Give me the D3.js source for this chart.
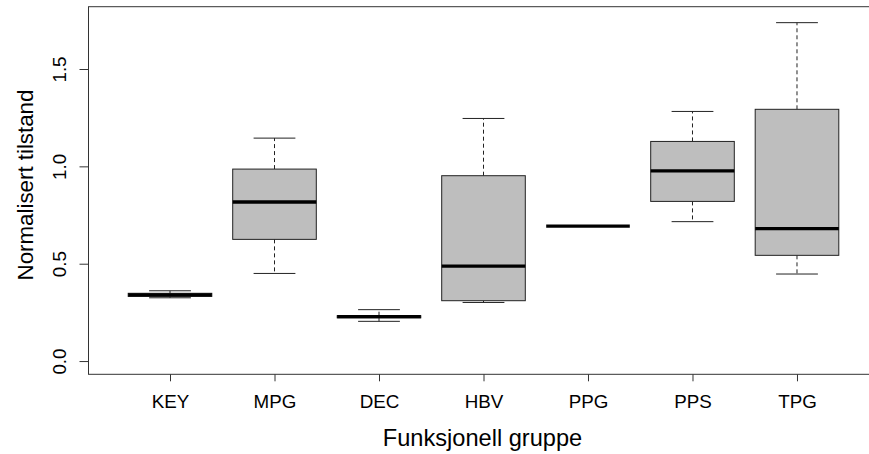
<!DOCTYPE html>
<html>
<head>
<meta charset="utf-8">
<script src="https://cdn.jsdelivr.net/npm/d3@7"></script>
<style>
  body { margin: 0; background: #fff; }
  svg { display: block; font-family: "Liberation Sans", Arial, sans-serif; }
</style>
</head>
<body>
<svg id="chart" width="869" height="454"></svg>
<script>
// groups and five-number summaries
const groups = ["KEY", "MPG", "DEC", "HBV", "PPG", "PPS", "TPG"];
const lowerWhisker = [0.325, 0.450, 0.204, 0.301, 0.693, 0.716, 0.447];
const q1 = [0.332, 0.625, 0.222, 0.310, 0.693, 0.820, 0.543];
const median = [0.340, 0.817, 0.228, 0.488, 0.693, 0.977, 0.680];
const q3 = [0.348, 0.986, 0.233, 0.952, 0.693, 1.128, 1.293];
const upperWhisker = [0.361, 1.145, 0.264, 1.246, 0.693, 1.282, 1.738];
const yTicks = [0, 0.5, 1.0, 1.5];

const svg = d3.select("#chart");

const plot = { left: 88.5, right: 878.5, top: 6.7, bottom: 374.3 };

const x = d3.scaleLinear().domain([0.22, 7.78]).range([plot.left, plot.right]);
const y = d3.scaleLinear().domain([-0.068, 1.82]).range([plot.bottom, plot.top]);

const boxes = groups.map((g, i) => ({
  name: g,
  pos: i + 1,
  lo: lowerWhisker[i],
  q1: q1[i],
  med: median[i],
  q3: q3[i],
  hi: upperWhisker[i]
}));

const boxHalf = 0.4, capHalf = 0.2;
const lineCol = "#222";

const g = svg.append("g");

// whiskers (dashed)
g.selectAll("line.wup")
  .data(boxes.filter(d => d.hi > d.q3))
  .join("line")
  .attr("x1", d => x(d.pos)).attr("x2", d => x(d.pos))
  .attr("y1", d => y(d.q3)).attr("y2", d => y(d.hi))
  .attr("stroke", lineCol).attr("stroke-width", 1)
  .attr("stroke-dasharray", "4,3");

g.selectAll("line.wlo")
  .data(boxes.filter(d => d.lo < d.q1))
  .join("line")
  .attr("x1", d => x(d.pos)).attr("x2", d => x(d.pos))
  .attr("y1", d => y(d.q1)).attr("y2", d => y(d.lo))
  .attr("stroke", lineCol).attr("stroke-width", 1)
  .attr("stroke-dasharray", "4,3");

// staples
["lo", "hi"].forEach(k => {
  g.append("g").selectAll("line")
    .data(boxes)
    .join("line")
    .attr("x1", d => x(d.pos - capHalf)).attr("x2", d => x(d.pos + capHalf))
    .attr("y1", d => y(d[k])).attr("y2", d => y(d[k]))
    .attr("stroke", lineCol).attr("stroke-width", 1);
});

// boxes
g.append("g").selectAll("rect")
  .data(boxes)
  .join("rect")
  .attr("x", d => x(d.pos - boxHalf))
  .attr("width", d => x(d.pos + boxHalf) - x(d.pos - boxHalf))
  .attr("y", d => y(d.q3))
  .attr("height", d => y(d.q1) - y(d.q3))
  .attr("fill", "#bebebe")
  .attr("stroke", lineCol).attr("stroke-width", 1);

// medians
g.append("g").selectAll("line")
  .data(boxes)
  .join("line")
  .attr("x1", d => x(d.pos - boxHalf)).attr("x2", d => x(d.pos + boxHalf))
  .attr("y1", d => y(d.med)).attr("y2", d => y(d.med))
  .attr("stroke", "#000").attr("stroke-width", 3.3);

// frame
svg.append("rect")
  .attr("x", plot.left).attr("y", plot.top)
  .attr("width", plot.right - plot.left).attr("height", plot.bottom - plot.top)
  .attr("fill", "none").attr("stroke", "#333").attr("stroke-width", 1);

// x axis
const xAxis = svg.append("g")
  .attr("transform", `translate(0,${plot.bottom})`)
  .call(d3.axisBottom(x).tickValues(d3.range(1, groups.length + 1))
    .tickFormat(d => groups[d - 1]).tickSize(7).tickPadding(12));
xAxis.select(".domain").remove();
xAxis.selectAll(".tick line").attr("stroke", "#333");
xAxis.selectAll(".tick text")
  .attr("font-family", "Liberation Sans, Arial, sans-serif")
  .attr("font-size", 18.8).attr("fill", "#000")
  .attr("dy", null).attr("y", 34);

// y axis
const yAxis = svg.append("g")
  .attr("transform", `translate(${plot.left},0)`)
  .call(d3.axisLeft(y).tickValues(yTicks).tickFormat(d3.format(".1f")).tickSize(9));
yAxis.select(".domain").remove();
yAxis.selectAll(".tick line").attr("stroke", "#333");
yAxis.selectAll(".tick text")
  .attr("font-family", "Liberation Sans, Arial, sans-serif")
  .attr("font-size", 18.8).attr("fill", "#000")
  .attr("text-anchor", "middle")
  .attr("transform", "rotate(-90)")
  .attr("x", 0).attr("dy", null).attr("y", -23);

// axis titles
svg.append("text")
  .attr("x", 482.5).attr("y", 445.5)
  .attr("text-anchor", "middle")
  .attr("font-size", 23.6).attr("fill", "#000")
  .text("Funksjonell gruppe");

svg.append("text")
  .attr("transform", "translate(32.5,185) rotate(-90)")
  .attr("text-anchor", "middle")
  .attr("font-size", 22.3).attr("fill", "#000")
  .text("Normalisert tilstand");
</script>
</body>
</html>
